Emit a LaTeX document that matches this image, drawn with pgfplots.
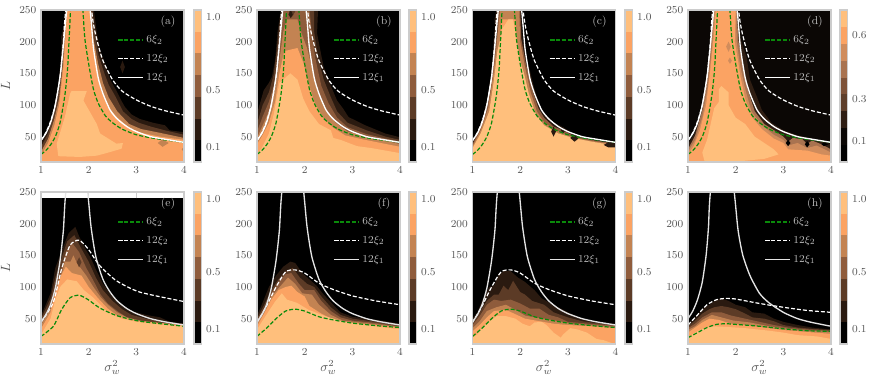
\documentclass[border=0pt]{standalone}
\usepackage{pgfplots}
\usepackage{pgfplotstable}
\pgfplotsset{compat=1.18}
\definecolor{cA}{HTML}{2A1A10}
\definecolor{cB}{HTML}{5C3B26}
\definecolor{cC}{HTML}{8F5C3C}
\definecolor{cD}{HTML}{C38352}
\definecolor{cE}{HTML}{FBA363}
\definecolor{cF}{HTML}{FFBF7C}
\definecolor{dA}{HTML}{0B0705}
\definecolor{dB}{HTML}{2F1E13}
\definecolor{dC}{HTML}{5E3E2A}
\definecolor{dD}{HTML}{7E5238}
\definecolor{dE}{HTML}{A97350}
\definecolor{dF}{HTML}{D08C5C}
\definecolor{frame}{HTML}{CCCCCC}
\definecolor{ticktxt}{HTML}{555555}
\definecolor{legtxt}{HTML}{BBBBBB}
\definecolor{xigreen}{HTML}{0A8A0A}
\definecolor{soltop}{HTML}{FFFFFF}
\definecolor{solbot}{HTML}{E4E4E4}

% 12 xi_1
\pgfplotstableread[row sep=\\]{x y\\ 1 44\\ 1.1 55\\ 1.2 72\\ 1.3 100\\ 1.4 145\\ 1.47 195\\ 1.54 250\\ 1.77 420\\ 2.03 250\\ 2.1 190\\ 2.2 143\\ 2.3 118\\ 2.45 92\\ 2.6 78\\ 2.8 66\\ 3 58\\ 3.3 50\\ 3.6 46\\ 4 41\\}\soltop
\pgfplotstableread[row sep=\\]{x y\\ 1 45\\ 1.1 56\\ 1.2 72\\ 1.3 98\\ 1.4 142\\ 1.47 190\\ 1.52 250\\ 1.75 420\\ 1.98 250\\ 2.05 195\\ 2.15 148\\ 2.3 112\\ 2.45 92\\ 2.6 78\\ 2.8 66\\ 3 58\\ 3.3 50\\ 3.6 45\\ 4 40\\}\solbot
\pgfplotstableread[row sep=\\]{x y\\ 1 50\\ 1.1 62\\ 1.2 80\\ 1.3 108\\ 1.38 150\\ 1.43 195\\ 1.47 250\\ 1.72 420\\ 1.97 250\\ 2.05 190\\ 2.15 150\\ 2.3 118\\ 2.5 90\\ 2.7 75\\ 3 60\\ 3.3 50\\ 3.6 44\\ 4 38\\}\solh
% 6 xi_2
\pgfplotstableread[row sep=\\]{x y\\ 1 22\\ 1.1 28\\ 1.2 37\\ 1.3 50\\ 1.4 72\\ 1.5 115\\ 1.56 160\\ 1.62 250\\ 1.75 420\\ 1.88 250\\ 1.92 205\\ 2 165\\ 2.1 125\\ 2.2 103\\ 2.35 83\\ 2.5 72\\ 2.7 62\\ 3 53\\ 3.4 47\\ 4 41\\}\grtop
\pgfplotstableread[row sep=\\]{x y\\ 1 22\\ 1.26 38\\ 1.43 64\\ 1.61 83\\ 1.8 87\\ 1.99 80\\ 2.23 67\\ 2.58 55\\ 3.07 46\\ 4 38\\}\gre
\pgfplotstableread[row sep=\\]{x y\\ 1 22\\ 1.2 35\\ 1.4 50\\ 1.6 62\\ 1.8 65\\ 2 62\\ 2.3 53\\ 2.6 48\\ 3 43\\ 3.5 39\\ 4 36\\}\grf
\pgfplotstableread[row sep=\\]{x y\\ 1 20\\ 1.2 28\\ 1.4 36\\ 1.6 41\\ 1.8 42\\ 2 41\\ 2.5 38\\ 3 34\\ 3.5 31\\ 4 30\\}\grh
% 12 xi_2
\pgfplotstableread[row sep=\\]{x y\\ 1 44\\ 1.1 56\\ 1.2 74\\ 1.3 100\\ 1.4 144\\ 1.47 200\\ 1.52 250\\ 1.8 420\\ 2.06 250\\ 2.12 220\\ 2.2 195\\ 2.3 170\\ 2.5 140\\ 2.7 122\\ 3 108\\ 3.3 98\\ 3.6 91\\ 4 84\\}\datop
\pgfplotstableread[row sep=\\]{x y\\ 1 44\\ 1.26 76\\ 1.43 128\\ 1.61 166\\ 1.8 174\\ 1.99 160\\ 2.23 134\\ 2.58 110\\ 3.07 92\\ 4 77\\}\dae
\pgfplotstableread[row sep=\\]{x y\\ 1 44\\ 1.2 70\\ 1.4 100\\ 1.6 124\\ 1.8 127\\ 2 122\\ 2.3 106\\ 2.6 96\\ 3 86\\ 3.5 78\\ 4 72\\}\daf
\pgfplotstableread[row sep=\\]{x y\\ 1 40\\ 1.2 56\\ 1.4 72\\ 1.6 80\\ 1.8 82\\ 2 81\\ 2.5 74\\ 3 68\\ 3.5 63\\ 4 60\\}\dah

\pgfplotsset{
  panel/.style={
    scale only axis, width=107.25pt, height=114pt, anchor=south west,
    xmin=1, xmax=4, ymin=10, ymax=250,
    xtick={1,2,3,4}, ytick={50,100,150,200,250},
    major tick length=0pt, tick style={draw=none},
    axis line style={frame, line width=0.8pt},
    axis on top,
    tick label style={font=\fontsize{8}{10}\selectfont, text=ticktxt},
    label style={font=\fontsize{10}{12}\selectfont, text=ticktxt},
    xlabel style={yshift=3pt},
    legend style={at={(0.505,0.87)}, anchor=north west, draw=none, fill=none,
      font=\fontsize{8}{10}\selectfont, text=legtxt, row sep=3pt,
      /tikz/every even column/.append style={column sep=9.5pt}},
    legend cell align=left,
    legend image code/.code={\draw[##1] plot coordinates {(0pt,0pt)(18.75pt,0pt)};},
    legend entries={$6\xi_2$,$12\xi_2$,$12\xi_1$},
  },
  cbar/.style={
    scale only axis, width=5.6pt, height=114pt, anchor=south west,
    xmin=0, xmax=1, xtick=\empty,
    major tick length=0pt, tick style={draw=none},
    axis line style={frame, line width=0.8pt},
    axis on top,
    yticklabel pos=right,
    tick label style={font=\fontsize{8}{10}\selectfont, text=ticktxt},
    yticklabel style={/pgf/number format/fixed, /pgf/number format/fixed zerofill, /pgf/number format/precision=1},
  },
  green line/.style={xigreen, line width=0.9pt, dash pattern=on 3pt off 1.5pt},
  white dash/.style={white, line width=0.9pt, dash pattern=on 3pt off 1.5pt},
}
\newcommand{\reg}[2]{\addplot[fill=#1,draw=none,forget plot] coordinates {#2};}
\newcommand{\band}[2]{\reg{#1}{(1,10)#2(4,10)}}
\newcommand{\back}[1]{\reg{#1}{(1,10)(1,250)(4,250)(4,10)}}
\newcommand{\curves}[4]{%
  \addplot[green line,smooth,tension=0.4] table {#1};
  \addplot[white dash,smooth,tension=0.4] table {#2};
  \addplot[#4,line width=1pt,smooth,tension=0.4] table {#3};
}
\newcommand{\tag}[1]{\node[font=\fontsize{8.5}{10}\selectfont,text=legtxt] at (rel axis cs:0.888,0.92) {(#1)};}
\newcommand{\cbarseven}[2]{%
  \begin{axis}[cbar, at={(#1,#2)}, ymin=0, ymax=1.05, ytick={0.1,0.5,1.0}]
    \addplot[fill=black,draw=none] coordinates {(0,0)(1,0)(1,0.15)(0,0.15)};
    \addplot[fill=cA,draw=none] coordinates {(0,0.15)(1,0.15)(1,0.3)(0,0.3)};
    \addplot[fill=cB,draw=none] coordinates {(0,0.3)(1,0.3)(1,0.45)(0,0.45)};
    \addplot[fill=cC,draw=none] coordinates {(0,0.45)(1,0.45)(1,0.6)(0,0.6)};
    \addplot[fill=cD,draw=none] coordinates {(0,0.6)(1,0.6)(1,0.75)(0,0.75)};
    \addplot[fill=cE,draw=none] coordinates {(0,0.75)(1,0.75)(1,0.9)(0,0.9)};
    \addplot[fill=cF,draw=none] coordinates {(0,0.9)(1,0.9)(1,1.05)(0,1.05)};
  \end{axis}}

\begin{document}
\begin{tikzpicture}
\useasboundingbox (0,0) rectangle (654pt,286.5pt);

% (a)
\begin{axis}[panel, at={(30.75pt,165pt)}, ylabel={$L$}]
\back{black}
\reg{cA}{(2.66,160)(2.71,170)(2.76,160)(2.71,150)}
\band{cA}{(1,40)(1.15,62)(1.27,95)(1.35,125)(1.41,165)(1.43,200)(1.42,207)(1.48,225)(1.51,250)(2.11,250)(2.17,215)(2.24,186)(2.37,160)(2.45,140)(2.58,123)(2.7,105)(2.76,97)(2.9,85)(3.07,78)(3.35,72)(3.6,68)(3.7,60)(4,57)(4,10)}
\band{cB}{(1,34)(1.15,55)(1.27,88)(1.38,125)(1.44,165)(1.47,215)(1.52,250)(2.08,250)(2.13,215)(2.2,180)(2.33,150)(2.42,132)(2.55,115)(2.72,90)(2.9,78)(3.05,72)(3.3,66)(3.6,60)(4,53)(4,10)}
\band{cD}{(1,26)(1.15,47)(1.28,78)(1.38,110)(1.46,165)(1.5,215)(1.54,250)(2.05,250)(2.1,205)(2.2,165)(2.3,135)(2.42,112)(2.6,90)(2.85,70)(3.1,62)(3.5,56)(4,48)(4,10)}
\band{cE}{(1,20)(1.15,40)(1.28,68)(1.38,100)(1.47,160)(1.52,215)(1.55,250)(2.02,250)(2.06,205)(2.14,165)(2.25,125)(2.4,98)(2.6,80)(2.85,64)(3.1,56)(3.5,50)(4,45)(4,10)}
\reg{cD}{(3.45,40)(3.55,46)(3.68,40)(3.55,34)}
\reg{cD}{(3.95,30)(4,34)(4,26)}
\reg{cF}{(1.36,20)(1.33,39)(1.5,81)(1.61,118)(1.64,122)(1.96,122)(1.89,107)(2.17,70)(2.24,55)(2.58,39)(2.72,40)(2.69,31)(2.37,24)(2.17,20)(1.82,18)(1.4,19)}
\curves{\grtop}{\datop}{\soltop}{white}
\tag{a}
\end{axis}
\cbarseven{145.5pt}{165pt}

% (b)
\begin{axis}[panel, at={(192.75pt,165pt)}]
\back{black}
\band{cA}{(1,86)(1.14,123)(1.25,135)(1.31,144)(1.38,170)(1.43,215)(1.47,235)(1.5,250)(2.28,250)(2.26,213)(2.35,178)(2.4,160)(2.55,130)(2.68,107)(2.8,95)(2.92,81)(3.27,68)(3.69,55)(4,49)(4,10)}
\band{cB}{(1,70)(1.12,100)(1.25,120)(1.35,148)(1.42,190)(1.47,225)(1.52,250)(2.2,250)(2.2,215)(2.28,175)(2.4,140)(2.55,112)(2.68,90)(2.9,72)(3.3,60)(3.7,50)(4,45)(4,10)}
\band{cC}{(1,58)(1.12,82)(1.25,105)(1.37,135)(1.45,185)(1.52,225)(1.56,250)(1.66,250)(1.7,240)(1.75,240)(1.82,250)(2.1,250)(2.15,215)(2.22,175)(2.35,130)(2.5,103)(2.68,80)(2.9,65)(3.3,54)(3.7,47)(4,42)(4,10)}
\reg{cA}{(1.66,243)(1.71,250)(1.75,243)(1.71,237)}
\band{cD}{(1,48)(1.12,68)(1.25,90)(1.38,125)(1.47,170)(1.55,215)(1.62,235)(1.85,235)(1.95,210)(2.05,190)(2.15,160)(2.28,120)(2.42,95)(2.65,72)(2.9,58)(3.3,50)(3.7,44)(4,38)(4,10)}
\band{cE}{(1,38)(1.1,50)(1.25,72)(1.38,105)(1.47,150)(1.57,185)(1.85,190)(1.98,165)(2.08,135)(2.2,105)(2.4,78)(2.6,64)(2.85,52)(3.2,46)(3.6,40)(4,34)(4,10)}
\band{cF}{(1,22)(1.1,32)(1.25,55)(1.35,85)(1.47,135)(1.7,150)(1.85,140)(1.97,110)(2.1,90)(2.3,70)(2.55,60)(2.6,48)(2.75,45)(3.1,35)(3.4,32)(3.7,28)(4,24)(4,10)}
\curves{\grtop}{\datop}{\soltop}{white}
\tag{b}
\end{axis}
\cbarseven{306.75pt}{165pt}

% (c)
\begin{axis}[panel, at={(354.4pt,165pt)}]
\back{black}
\band{cA}{(1,42)(1.17,70)(1.3,105)(1.38,145)(1.43,180)(1.44,200)(1.47,225)(1.46,235)(1.5,250)(2.02,250)(2.05,205)(2.15,170)(2.3,125)(2.4,100)(2.5,88)(2.7,72)(2.85,67)(3,60)(3.2,48)(3.5,45)(3.7,40)(3.85,38)(4,38)(4,10)}
\band{cC}{(1,38)(1.17,65)(1.32,100)(1.42,150)(1.48,195)(1.52,215)(1.52,250)(2,250)(2.02,205)(2.12,165)(2.27,120)(2.38,95)(2.5,80)(2.7,66)(2.9,60)(3.1,52)(3.5,45)(3.9,40)(4,40)(4,10)}
\band{cD}{(1,35)(1.17,60)(1.33,95)(1.43,145)(1.5,190)(1.53,215)(1.58,250)(1.98,250)(2,200)(2.1,160)(2.22,120)(2.35,90)(2.5,73)(2.7,62)(3,52)(3.3,46)(3.6,42)(4,38)(4,10)}
\reg{cE}{(1.57,195)(1.6,235)(1.9,235)(1.95,180)(1.8,180)}
\band{cF}{(1,32)(1.17,55)(1.35,90)(1.45,140)(1.52,185)(1.6,210)(1.62,220)(1.75,235)(1.85,235)(1.92,205)(2,170)(2.08,150)(2.18,118)(2.33,85)(2.5,68)(2.8,55)(3.1,48)(3.5,42)(4,36)(4,10)}
\reg{cA}{(2.65,58)(2.7,66)(2.75,58)(2.7,50)}
\reg{cA}{(2.85,60)(2.9,66)(2.95,60)(2.9,55)}
\reg{cA}{(3.05,48)(3.14,54)(3.22,47)(3.14,42)}
\reg{cA}{(3.75,37)(3.85,41)(4,41)(4,33)(3.85,33)}
\curves{\grtop}{\datop}{\soltop}{white}
\tag{c}
\end{axis}
\cbarseven{468.75pt}{165pt}

% (d)
\begin{axis}[panel, at={(516pt,165pt)}]
\back{dA}
\band{dB}{(1,38)(1.15,58)(1.3,100)(1.38,135)(1.4,155)(1.47,200)(1.5,250)(2.05,250)(2.1,205)(2.23,175)(2.3,140)(2.45,112)(2.55,92)(2.75,72)(3,60)(3.3,52)(3.7,45)(4,38)(4,10)}
\band{dE}{(1,30)(1.15,52)(1.3,92)(1.42,150)(1.5,215)(1.54,250)(2.02,250)(2.06,200)(2.15,165)(2.25,125)(2.4,90)(2.6,70)(2.85,58)(3,50)(3.1,42)(3.2,48)(3.4,46)(3.5,38)(3.6,44)(3.8,38)(4,30)(4,10)}
\band{dF}{(1,26)(1.15,45)(1.3,80)(1.42,130)(1.5,190)(1.56,250)(2.01,250)(2.02,200)(2.1,160)(2.2,125)(2.33,90)(2.55,68)(2.8,53)(3,45)(3.1,36)(3.3,40)(3.5,32)(3.7,36)(4,25)(4,10)}
\band{cE}{(1,22)(1.12,35)(1.25,60)(1.38,100)(1.46,150)(1.55,215)(1.58,250)(2,250)(1.98,200)(2.05,170)(2.1,145)(2.2,110)(2.35,80)(2.55,62)(2.8,47)(3,40)(3.1,30)(3.5,28)(3.8,22)(4,20)(4,10)}
\reg{dF}{(1.8,192)(1.85,200)(1.9,192)(1.85,184)}
\reg{dF}{(1.84,170)(1.88,175)(1.92,170)(1.88,165)}
\reg{cF}{(1.35,10)(1.3,25)(1.4,45)(1.55,95)(1.65,105)(1.65,125)(1.7,130)(1.85,120)(1.85,100)(2,80)(2.2,70)(2.4,50)(2.8,30)(2.9,22)(2.6,15)(2.2,12)(1.8,10)}
\reg{black}{(3.05,40)(3.1,45)(3.15,40)(3.1,35)}
\reg{black}{(3.45,38)(3.5,43)(3.55,38)(3.5,33)}
\reg{black}{(3.8,38)(3.85,41)(3.95,38)(3.85,35)}
\curves{\grtop}{\datop}{\soltop}{white}
\tag{d}
\end{axis}
\begin{axis}[cbar, at={(630pt,165pt)}, ymin=0, ymax=0.72, ytick={0.1,0.3,0.6}]
  \addplot[fill=black,draw=none] coordinates {(0,0)(1,0)(1,0.08)(0,0.08)};
  \addplot[fill=dA,draw=none] coordinates {(0,0.08)(1,0.08)(1,0.16)(0,0.16)};
  \addplot[fill=dB,draw=none] coordinates {(0,0.16)(1,0.16)(1,0.24)(0,0.24)};
  \addplot[fill=dC,draw=none] coordinates {(0,0.24)(1,0.24)(1,0.32)(0,0.32)};
  \addplot[fill=dD,draw=none] coordinates {(0,0.32)(1,0.32)(1,0.4)(0,0.4)};
  \addplot[fill=dE,draw=none] coordinates {(0,0.4)(1,0.4)(1,0.48)(0,0.48)};
  \addplot[fill=dF,draw=none] coordinates {(0,0.48)(1,0.48)(1,0.56)(0,0.56)};
  \addplot[fill=cE,draw=none] coordinates {(0,0.56)(1,0.56)(1,0.64)(0,0.64)};
  \addplot[fill=cF,draw=none] coordinates {(0,0.64)(1,0.64)(1,0.72)(0,0.72)};
\end{axis}

% (e)
\begin{axis}[panel, at={(30.75pt,28.5pt)}, ylabel={$L$}, xlabel={$\sigma_w^2$}]
\reg{black}{(1,10)(1,240)(4,240)(4,10)}
\addplot[frame,line width=0.6pt,forget plot] coordinates {(2,240)(2,250)};
\addplot[frame,line width=0.6pt,forget plot] coordinates {(3,240)(3,250)};
\band{cA}{(1,55)(1.1,72)(1.2,90)(1.3,130)(1.45,160)(1.5,170)(1.58,185)(1.65,190)(1.72,195)(1.8,180)(1.92,162)(2.05,145)(2.15,128)(2.3,105)(2.5,85)(2.7,72)(2.9,62)(3.2,56)(3.5,52)(3.7,45)(4,42)}
\band{cB}{(1,50)(1.2,82)(1.3,115)(1.45,150)(1.55,172)(1.7,182)(1.85,160)(2,140)(2.15,115)(2.3,95)(2.5,78)(2.7,65)(2.9,56)(3.2,50)(3.5,46)(4,42)}
\band{cC}{(1,45)(1.2,72)(1.3,100)(1.45,135)(1.52,155)(1.65,170)(1.8,155)(1.95,130)(2.1,110)(2.25,88)(2.4,74)(2.6,62)(2.8,52)(3.1,47)(3.5,43)(4,41)}
\band{cD}{(1,40)(1.2,65)(1.3,92)(1.45,125)(1.5,140)(1.62,140)(1.68,150)(1.75,138)(1.85,128)(1.95,118)(2.1,100)(2.25,84)(2.4,72)(2.6,60)(2.8,52)(3.1,46)(3.5,43)(4,40)}
\reg{cB}{(1.75,139)(1.8,147)(1.85,139)(1.8,131)}
\band{cE}{(1,34)(1.2,60)(1.3,90)(1.42,118)(1.52,132)(1.65,122)(1.85,118)(2,100)(2.2,82)(2.4,66)(2.6,55)(3,47)(3.5,43)(4,39)}
\band{cF}{(1,25)(1.2,50)(1.3,80)(1.4,100)(1.55,112)(1.75,109)(1.9,95)(2.1,83)(2.4,60)(2.7,50)(3,45)(3.5,41)(4,38)}
\curves{\gre}{\dae}{\solbot}{solbot}
\tag{e}
\end{axis}
\cbarseven{145.5pt}{28.5pt}

% (f)
\begin{axis}[panel, at={(192.75pt,28.5pt)}, xlabel={$\sigma_w^2$}]
\back{black}
\band{cA}{(1,55)(1.1,72)(1.25,100)(1.4,118)(1.55,132)(1.7,140)(1.8,138)(1.95,122)(2.1,112)(2.25,102)(2.4,88)(2.6,72)(2.75,60)(3,53)(3.3,50)(3.6,47)(4,42)}
\band{cB}{(1,50)(1.15,72)(1.3,95)(1.45,112)(1.6,125)(1.75,130)(1.9,115)(2.05,105)(2.2,100)(2.35,85)(2.55,68)(2.75,56)(3,50)(3.3,47)(3.6,44)(4,40)}
\band{cC}{(1,47)(1.15,66)(1.3,90)(1.45,108)(1.6,120)(1.72,122)(1.88,105)(2,95)(2.2,95)(2.35,78)(2.55,62)(2.75,52)(3,47)(3.4,44)(4,38)}
\band{cD}{(1,42)(1.15,60)(1.3,85)(1.5,102)(1.65,115)(1.8,105)(1.95,90)(2.15,88)(2.3,72)(2.55,56)(2.8,47)(3.4,42)(4,37)}
\band{cE}{(1,38)(1.15,58)(1.3,80)(1.45,95)(1.6,100)(1.72,102)(1.85,92)(2,85)(2.1,70)(2.35,58)(2.6,48)(3,43)(3.5,40)(4,36)}
\band{cF}{(1,33)(1.17,53)(1.38,77)(1.52,90)(1.63,80)(1.84,75)(2.08,64)(2.43,54)(2.78,46)(3.48,38)(4,33)}
\curves{\grf}{\daf}{\solbot}{solbot}
\tag{f}
\end{axis}
\cbarseven{306.75pt}{28.5pt}

% (g)
\begin{axis}[panel, at={(354.4pt,28.5pt)}, xlabel={$\sigma_w^2$}]
\back{black}
\band{cA}{(1,50)(1.1,60)(1.2,78)(1.35,100)(1.45,102)(1.55,120)(1.65,125)(1.8,125)(1.95,115)(2.1,108)(2.3,95)(2.45,82)(2.7,72)(3,60)(3.3,50)(3.6,45)(4,42)}
\band{cB}{(1,45)(1.15,60)(1.3,78)(1.45,88)(1.55,88)(1.65,102)(1.75,95)(1.85,110)(2,92)(2.1,88)(2.25,78)(2.5,72)(2.7,60)(3,52)(3.3,46)(3.6,43)(4,41)}
\band{cC}{(1,40)(1.15,54)(1.3,72)(1.45,80)(1.6,78)(1.8,80)(2,74)(2.2,66)(2.4,66)(2.6,56)(2.8,52)(3,45)(3.3,43)(3.6,41)(4,39)}
\band{cD}{(1,35)(1.15,46)(1.3,62)(1.5,68)(1.7,72)(1.9,64)(2.1,55)(2.3,52)(2.5,50)(2.8,46)(3.1,42)(3.5,40)(4,37)}
\band{cE}{(1,30)(1.15,40)(1.3,52)(1.45,62)(1.7,64)(1.9,57)(2.1,50)(2.4,46)(2.7,42)(3,40)(3.5,38)(4,35)}
\band{cF}{(1,20)(1.1,25)(1.2,35)(1.35,45)(1.5,54)(1.7,54)(1.9,50)(2.05,42)(2.2,38)(2.3,44)(2.45,45)(2.55,40)(2.7,28)(2.85,20)(2.9,25)(3.05,35)(3.2,33)(3.4,28)(3.6,18)(3.75,16)(3.9,12)}
\curves{\grf}{\daf}{\solbot}{solbot}
\tag{g}
\end{axis}
\cbarseven{468.75pt}{28.5pt}

% (h)
\begin{axis}[panel, at={(516pt,28.5pt)}, xlabel={$\sigma_w^2$}]
\back{black}
\band{cA}{(1,42)(1.15,52)(1.3,65)(1.45,72)(1.55,78)(1.7,82)(1.85,78)(2,72)(2.2,68)(2.35,60)(2.6,58)(2.8,50)(3,45)(3.3,40)(3.6,36)(4,33)}
\band{cB}{(1,38)(1.15,47)(1.3,58)(1.45,65)(1.55,68)(1.7,70)(1.85,68)(2,65)(2.2,58)(2.35,52)(2.6,50)(2.8,46)(3,40)(3.3,36)(3.6,34)(4,32)}
\band{cC}{(1,35)(1.15,42)(1.3,52)(1.5,60)(1.7,60)(1.9,55)(2.2,50)(2.5,45)(2.8,40)(3.1,36)(3.5,33)(4,31)}
\band{cD}{(1,32)(1.15,38)(1.3,48)(1.5,56)(1.7,52)(1.95,47)(2.3,44)(2.7,38)(3.1,34)(3.5,31)(4,29)}
\band{cE}{(1,28)(1.15,36)(1.3,44)(1.45,50)(1.65,48)(1.9,42)(2.2,40)(2.6,36)(3,32)(3.5,29)(4,26)}
\band{cF}{(1,20)(1.15,28)(1.3,34)(1.5,38)(1.8,37)(2.2,35)(2.7,31)(3,28)(3.3,24)(3.7,22)(4,18)}
\curves{\grh}{\dah}{\solh}{solbot}
\tag{h}
\end{axis}
\cbarseven{630pt}{28.5pt}
\end{tikzpicture}
\end{document}
